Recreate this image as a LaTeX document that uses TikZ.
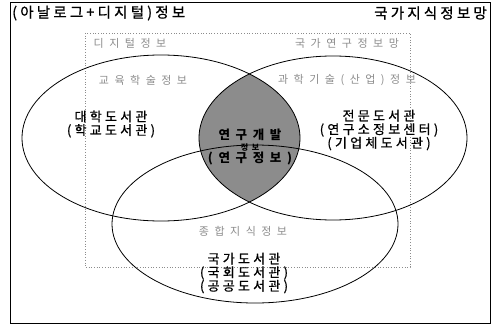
\documentclass[tikz,border=0pt]{standalone}
\usepackage{fontspec}
\newfontfamily\krtitle[LetterSpace=22, FakeBold=1]{Noto Sans CJK KR}
\newfontfamily\krmain[LetterSpace=25, FakeBold=0.8]{Noto Sans CJK KR}
\newfontfamily\krfaint[LetterSpace=50]{Noto Sans CJK KR}
\newfontfamily\krcore[LetterSpace=45]{Noto Sans CJK KR}
\newcommand\tightlines{\lineskiplimit=-20pt\relax}

\tikzset{
  titel/.style={inner sep=0pt, font=\krtitle\fontsize{14.5}{16}\selectfont},
  lib/.style={inner sep=0pt, align=center,
    font=\krmain\fontsize{13}{13.6}\selectfont\tightlines},
  faint/.style={inner sep=0pt, text=black!45, font=\krfaint\fontsize{11}{12}\selectfont},
  core/.style={inner sep=0pt, align=center,
    font=\krcore\bfseries\fontsize{12.5}{11.5}\selectfont\tightlines},
  venn/.style={draw, line width=0.8pt},
}

\begin{document}
\begin{tikzpicture}[x=1pt, y=-1pt]
			\useasboundingbox (0,0) rectangle (494,326);
			% Marco
			\draw[line width=0.8pt] (10,2) rectangle (490,323);
			\draw[black!45, dotted, line width=0.7pt] (85,33) rectangle (410,267);

			% Zona comun
			\begin{scope}
				\clip (161,138) ellipse [x radius=139, y radius=83];
				\fill[black!45] (333,138) ellipse [x radius=134, y radius=82];
			\end{scope}

			% Elipses
			\draw[venn] (161,138) ellipse [x radius=139, y radius=83];
			\draw[venn] (333,138) ellipse [x radius=134, y radius=82];
			\draw[venn] (255,224) ellipse [x radius=143, y radius=79];

			% Titulos
			\node[titel, anchor=west] (analog) at (12,13) {(아날로그+디지털)정보};
			\node[titel, anchor=east] (netz) at (487,13) {국가지식정보망};
			\node[faint] (digital) at (130,43) {디지털정보};
			\node[faint] (forsch) at (347,43) {국가연구정보망};

			% Izquierda
			\node[faint] (bildung) at (143,80) {교육학술정보};
			\node[lib] (uni) at (111,124) {대학도서관\\(학교도서관)};
			% Derecha
			\node[faint] (technik) at (347,80) {과학기술(산업)정보};
			\node[lib] (fach) at (379,130) {전문도서관\\(연구소정보센터)\\(기업체도서관)};
			% Abajo
			\node[faint] (gesamt) at (243,231) {종합지식정보};
			\node[lib] (national) at (244,273) {국가도서관\\(국회도서관)\\(공공도서관)};
			% Centro
			\node[core] (fue) at (250,147) {연구개발\\{\fontsize{8}{8}\selectfont 정보}\\(연구정보)};
		\end{tikzpicture}
\end{document}
